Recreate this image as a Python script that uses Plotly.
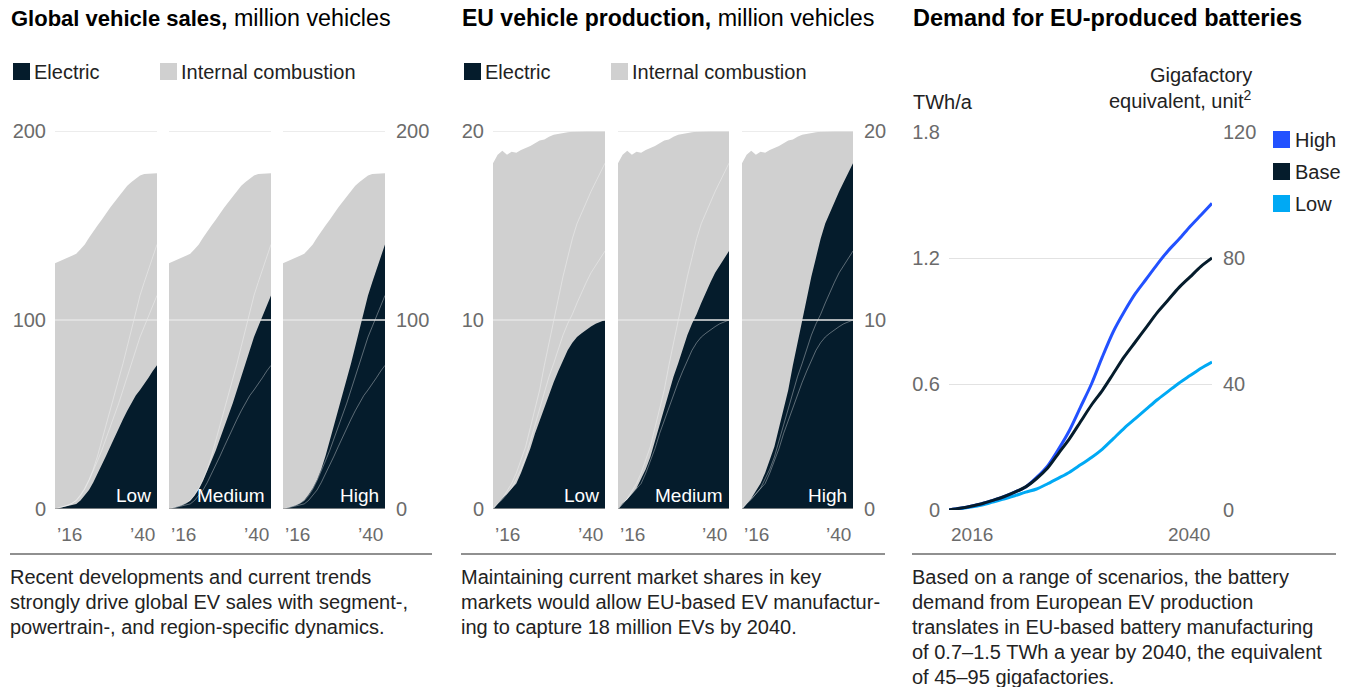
import plotly.graph_objects as go

W, H = 1346, 687

# ---------------- data ----------------
years = list(range(2016, 2041))

global_total = [130, 131, 132, 133, 134, 135, 137.5, 140, 143.5, 147, 150, 153, 156.5,
                159.5, 162.5, 165.5, 168.5, 171, 173, 175, 176.5, 177.3, 177.4, 177.5, 177.7]
global_ev_low = [0, 0.5, 1, 1.5, 2, 2.7, 4.5, 7, 10, 14, 18.5, 23, 28, 33, 38, 43, 47.5,
                 52, 56, 60, 63, 66, 69.5, 73, 76]
global_ev_medium = [0, 0.6, 1.2, 2, 3, 4.4, 7, 10.5, 15, 20, 25.5, 31, 37, 43, 49.5, 56,
                    63, 70, 78, 85, 91, 96.5, 102, 108, 113]
global_ev_high = [0, 0.6, 1.2, 2, 3, 4.6, 7.5, 11, 15.5, 21, 28, 36, 44, 52, 60, 68, 77,
                  86, 95, 103, 113, 120, 127, 134, 140]

eu_total = [18.3, 18.75, 18.95, 18.75, 18.9, 18.85, 19.0, 19.1, 19.2, 19.35, 19.5, 19.55,
            19.7, 19.8, 19.85, 19.9, 19.93, 19.96, 19.98, 20, 20, 20, 20, 20, 20]
eu_ev_low = [0, 0.3, 0.55, 0.8, 1.1, 1.35, 1.9, 2.5, 3.2, 4.0, 4.7, 5.4, 6.1, 6.7, 7.3,
             7.9, 8.4, 8.8, 9.1, 9.3, 9.5, 9.65, 9.8, 9.9, 10.0]
eu_ev_medium = [0, 0.3, 0.5, 0.8, 1.1, 1.6, 2.1, 2.75, 3.6, 4.5, 5.4, 6.2, 7.0, 7.7, 8.5,
                9.2, 9.8, 10.3, 10.9, 11.5, 12.0, 12.5, 12.9, 13.3, 13.65]
eu_ev_high = [0, 0.3, 0.55, 0.95, 1.35, 1.9, 2.6, 3.3, 4.3, 5.3, 6.3, 7.6, 8.8, 10.0, 11.2,
              12.3, 13.3, 14.3, 15.1, 15.7, 16.3, 16.8, 17.3, 17.8, 18.3]

battery_high = [0, 0.008, 0.018, 0.03, 0.046, 0.063, 0.085, 0.11, 0.155, 0.21, 0.29, 0.38,
                0.49, 0.6, 0.73, 0.85, 0.945, 1.03, 1.1, 1.17, 1.235, 1.29, 1.35, 1.405, 1.46]
battery_base = [0, 0.008, 0.018, 0.03, 0.046, 0.063, 0.085, 0.11, 0.15, 0.2, 0.27, 0.34,
                0.42, 0.5, 0.57, 0.65, 0.73, 0.8, 0.87, 0.94, 1.0, 1.06, 1.11, 1.16, 1.2]
battery_low = [0, 0.006, 0.014, 0.024, 0.038, 0.052, 0.068, 0.085, 0.1, 0.125, 0.152, 0.18,
               0.215, 0.25, 0.29, 0.34, 0.39, 0.435, 0.48, 0.525, 0.565, 0.605, 0.64, 0.675, 0.705]

scenario_names = ["Low", "Medium", "High"]
battery_names = ["High", "Base", "Low"]
global_yticks = [0, 100, 200]
eu_yticks = [0, 10, 20]
battery_yticks = [0, 0.6, 1.2, 1.8]
battery_yticklabels = ["0", "0.6", "1.2", "1.8"]
gigafactory_ticks = [0, 40, 80, 120]
short_year_labels = ["\u201916", "\u201940"]
long_year_labels = ["2016", "2040"]
legend_labels = ["Electric", "Internal combustion"]

# ---------------- style ----------------
NAVY = "#051c2c"
GREY = "#d0d0d0"
BLUE = "#2251ff"
CYAN = "#00a9f4"
TICK = "#6b6b6b"
FONT = "Liberation Sans, Arial, sans-serif"


def fx(px):
    return px / W


def fy(py):
    return 1 - py / H


def sfx(n):
    return "" if n == 1 else str(n)


fig = go.Figure()
layout = dict(
    template="none",
    width=W, height=H, margin=dict(l=0, r=0, t=0, b=0, pad=0, autoexpand=False),
    paper_bgcolor="white", plot_bgcolor="rgba(0,0,0,0)",
    showlegend=False, font=dict(family=FONT, color="#222"),
    hovermode=False,
)
shapes = []
annotations = []

panels = [
    dict(total=global_total, ev=[global_ev_low, global_ev_medium, global_ev_high],
         ticks=global_yticks, xs=[(55, 157), (169, 271), (283, 385)]),
    dict(total=eu_total, ev=[eu_ev_low, eu_ev_medium, eu_ev_high],
         ticks=eu_yticks, xs=[(493, 605), (618, 729), (742, 853)]),
]
ydom = [fy(509), fy(131)]

n = 0
for p in panels:
    ymax = p["ticks"][-1]
    for k in range(3):
        n += 1
        xa, ya = "x" + sfx(n), "y" + sfx(n)
        fig.add_trace(go.Scatter(x=years, y=p["total"], xaxis=xa, yaxis=ya, mode="lines",
                                 fill="tozeroy", fillcolor=GREY, line=dict(width=0, color=GREY)))
        fig.add_trace(go.Scatter(x=years, y=p["ev"][k], xaxis=xa, yaxis=ya, mode="lines",
                                 fill="tozeroy", fillcolor=NAVY, line=dict(width=0, color=NAVY)))
        for j in range(3):
            if j != k:
                fig.add_trace(go.Scatter(x=years, y=p["ev"][j], xaxis=xa, yaxis=ya, mode="lines",
                                         line=dict(width=1, color="rgba(255,255,255,0.35)")))
        x0, x1 = p["xs"][k]
        layout["xaxis" + sfx(n)] = dict(domain=[fx(x0), fx(x1)], range=[years[0], years[-1]],
                                        anchor=ya, showgrid=False, zeroline=False,
                                        showticklabels=False, showline=False, fixedrange=True,
                                        automargin=False, ticks="")
        yax = dict(domain=ydom, range=[0, ymax], anchor=xa, showgrid=False, zeroline=False,
                   showline=False, tickvals=p["ticks"], fixedrange=True, automargin=False,
                   ticks="", tickfont=dict(size=20, color=TICK, family=FONT))
        if k == 0:
            yax.update(side="left", showticklabels=True, ticklabelstandoff=8)
        elif k == 2:
            yax.update(side="right", showticklabels=True, ticklabelstandoff=10)
        else:
            yax.update(showticklabels=False)
        layout["yaxis" + sfx(n)] = yax
        # gridlines above areas
        for t in p["ticks"]:
            shapes.append(dict(type="line", xref=f"{xa} domain", x0=0, x1=1, yref=ya,
                               y0=t, y1=t, layer="above",
                               line=dict(color="#e6e6e6" if t > 0 else "#9a9a9a", width=1.5)))
        # scenario label
        annotations.append(dict(text=scenario_names[k], xref=f"{xa} domain", x=1, xshift=-4,
                                xanchor="right", yref=f"{ya} domain", y=0, yshift=1,
                                yanchor="bottom", showarrow=False,
                                font=dict(size=19, color="white", family=FONT)))
        # x tick labels (first/last year)
        annotations.append(dict(text=short_year_labels[0], xref=xa, x=years[0], xanchor="left",
                                yref="paper", y=fy(534), yanchor="middle", showarrow=False,
                                font=dict(size=19, color=TICK, family=FONT)))
        annotations.append(dict(text=short_year_labels[1], xref=xa, x=years[-1], xanchor="right",
                                yref="paper", y=fy(534), yanchor="middle", showarrow=False,
                                font=dict(size=19, color=TICK, family=FONT)))

# ---------------- battery panel ----------------
n += 1
bx, by = "x" + sfx(n), "y" + sfx(n)
by2 = "y" + sfx(n + 1)
battery_series = {"High": battery_high, "Base": battery_base, "Low": battery_low}
battery_colors = {"High": BLUE, "Base": NAVY, "Low": CYAN}
for name in ["Low", "High", "Base"]:
    fig.add_trace(go.Scatter(x=years, y=battery_series[name], xaxis=bx, yaxis=by, mode="lines",
                             line=dict(width=3, color=battery_colors[name], shape="spline",
                                       smoothing=0.8)))
# invisible trace for secondary axis
fig.add_trace(go.Scatter(x=[years[0]], y=[gigafactory_ticks[0]], xaxis=bx, yaxis=by2,
                         mode="markers", marker=dict(opacity=0)))
layout["xaxis" + sfx(n)] = dict(domain=[fx(949), fx(1212)], range=[years[0], years[-1]],
                                anchor=by, showgrid=False, zeroline=False, showticklabels=False,
                                showline=False, fixedrange=True, automargin=False, ticks="")
layout["yaxis" + sfx(n)] = dict(domain=[fy(510), fy(132)], range=[0, battery_yticks[-1]],
                                anchor=bx, tickvals=battery_yticks, ticktext=battery_yticklabels,
                                showgrid=True, gridcolor="#e2e2e2", gridwidth=1.3, zeroline=False,
                                showline=False, ticklabelstandoff=8, fixedrange=True,
                                automargin=False, ticks="",
                                tickfont=dict(size=20, color=TICK, family=FONT))
layout["yaxis" + sfx(n + 1)] = dict(overlaying=by, side="right", anchor=bx,
                                    range=[0, gigafactory_ticks[-1]], tickvals=gigafactory_ticks,
                                    showgrid=False, zeroline=False, showline=False,
                                    ticklabelstandoff=10, fixedrange=True, automargin=False,
                                    ticks="", tickfont=dict(size=20, color=TICK, family=FONT))
annotations.append(dict(text=long_year_labels[0], xref=bx, x=years[0], xanchor="left",
                        yref="paper", y=fy(534), yanchor="middle", showarrow=False,
                        font=dict(size=19, color=TICK, family=FONT)))
annotations.append(dict(text=long_year_labels[1], xref=bx, x=years[-1], xanchor="right",
                        yref="paper", y=fy(534), yanchor="middle", showarrow=False,
                        font=dict(size=19, color=TICK, family=FONT)))
annotations.append(dict(text="TWh/a", xref="paper", x=fx(911), xanchor="left", yref="paper",
                        y=fy(102), yanchor="middle", showarrow=False,
                        font=dict(size=20, color="#222", family=FONT)))
annotations.append(dict(text="Gigafactory", xref="paper", x=fx(1254), xanchor="right",
                        yref="paper", y=fy(75), yanchor="middle", showarrow=False,
                        font=dict(size=20, color="#222", family=FONT)))
annotations.append(dict(text="equivalent, unit<sup>2</sup>", xref="paper", x=fx(1254),
                        xanchor="right", yref="paper", y=fy(99), yanchor="middle",
                        showarrow=False, font=dict(size=20, color="#222", family=FONT)))
# battery legend
for i, name in enumerate(battery_names):
    top = 131 + i * 32
    shapes.append(dict(type="rect", xref="paper", yref="paper", x0=fx(1273), x1=fx(1290),
                       y0=fy(top + 17), y1=fy(top), fillcolor=battery_colors[name],
                       line=dict(width=0)))
    annotations.append(dict(text=name, xref="paper", x=fx(1293), xanchor="left",
                            yref="paper", y=fy(top + 9), yanchor="middle", showarrow=False,
                            font=dict(size=20, color="#222", family=FONT)))

# ---------------- titles, legends, separators, notes ----------------
titles = [
    (9, "Global vehicle sales,", 22, " million vehicles"),
    (460, "EU vehicle production,", 23, " million vehicles"),
    (911, "Demand for EU-produced batteries", 23.5, ""),
]
for x, bold, bsize, rest in titles:
    text = f"<b>{bold}</b>"
    if rest:
        text += f"<span style='font-size:23.3px'>{rest}</span>"
    annotations.append(dict(text=text, xref="paper", x=fx(x), xanchor="left", yref="paper",
                            y=fy(18), yanchor="middle", showarrow=False,
                            font=dict(size=bsize, color="#000", family=FONT)))

for lx in (13, 464):
    for i, (lab, col) in enumerate(zip(legend_labels, [NAVY, GREY])):
        sx = lx + i * 147
        shapes.append(dict(type="rect", xref="paper", yref="paper", x0=fx(sx), x1=fx(sx + 17),
                           y0=fy(80), y1=fy(63), fillcolor=col, line=dict(width=0)))
        annotations.append(dict(text=lab, xref="paper", x=fx(sx + 19), xanchor="left",
                                yref="paper", y=fy(72), yanchor="middle", showarrow=False,
                                font=dict(size=20, color="#222", family=FONT)))

for a, b in [(10, 432), (461, 885), (912, 1336)]:
    shapes.append(dict(type="line", xref="paper", yref="paper", x0=fx(a), x1=fx(b),
                       y0=fy(554), y1=fy(554), line=dict(color="#222", width=1.2)))

notes = [
    (8, ["Recent developments and current trends",
         "strongly drive global EV sales with segment-,",
         "powertrain-, and region-specific dynamics."]),
    (459, ["Maintaining current market shares in key",
           "markets would allow EU-based EV manufactur-",
           "ing to capture 18 million EVs by 2040."]),
    (910, ["Based on a range of scenarios, the battery",
           "demand from European EV production",
           "translates in EU-based battery manufacturing",
           "of 0.7\u20131.5 TWh a year by 2040, the equivalent",
           "of 45\u201395 gigafactories."]),
]
for x, lines in notes:
    for i, line in enumerate(lines):
        annotations.append(dict(text=line, xref="paper", x=fx(x), xanchor="left", yref="paper",
                                y=fy(577 + i * 25), yanchor="middle", showarrow=False,
                                font=dict(size=20, color="#222", family=FONT)))

layout["shapes"] = shapes
layout["annotations"] = annotations
fig.update_layout(**layout)
fig.update_traces(hoverinfo="skip", showlegend=False)
fig.write_html("out.html", config={"displayModeBar": False},
               post_script="document.body.style.margin='0';document.body.style.padding='0';")
